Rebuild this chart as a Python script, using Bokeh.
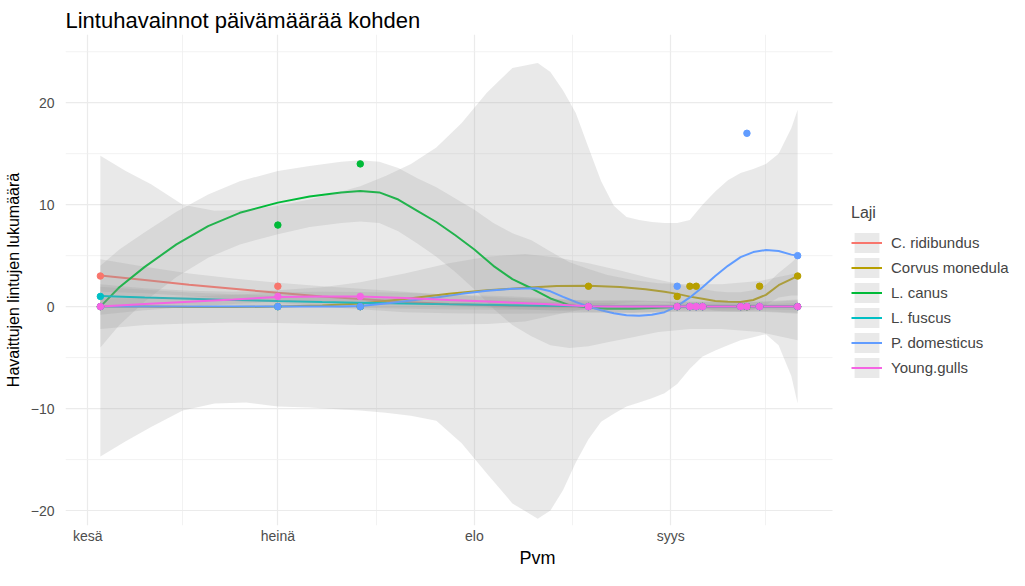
import pandas as pd
from bokeh.plotting import figure
from bokeh.models import Range1d, FixedTicker, Legend, LegendItem
from bokeh.embed import file_html
from bokeh.resources import INLINE

# ---------------- data ----------------
BASE = pd.Timestamp("2021-06-01")  # day 0 of the x axis


def to_days(dates):
    return [int((pd.Timestamp(d) - BASE).days) for d in dates]


month_ticks = ["2021-06-01", "2021-07-01", "2021-08-01", "2021-09-01"]
month_labels = ["kesä", "heinä", "elo", "syys"]
month_minor_days = [15, 45.5, 76.5, 107]
y_ticks = [-20, -10, 0, 10, 20]
y_minor = [-25, -15, -5, 5, 15, 25]

species = ["C. ridibundus", "Corvus monedula", "L. canus", "L. fuscus",
           "P. domesticus", "Young.gulls"]
colors = ["#F8766D", "#B79F00", "#00BA38", "#00BFC4", "#619CFF", "#F564E3"]

# observed counts per observation date
obs_dates = ["2021-06-03", "2021-07-01", "2021-07-14", "2021-08-19", "2021-09-02",
             "2021-09-04", "2021-09-05", "2021-09-06", "2021-09-12", "2021-09-13",
             "2021-09-15", "2021-09-21"]
ridib_count = [3, 2, 0, 0, 0, 0, 0, 0, 0, 0, 0, 0]
corvus_count = [0, 0, 0, 2, 1, 2, 2, 0, 0, 0, 2, 3]
canus_count = [0, 8, 14, 0, 0, 0, 0, 0, 0, 0, 0, 0]
fuscus_count = [1, 0, 0, 0, 0, 0, 0, 0, 0, 0, 0, 0]
domest_count = [0, 0, 0, 0, 2, 0, 0, 0, 0, 17, 0, 5]
young_count = [0, 1, 1, 0, 0, 0, 0, 0, 0, 0, 0, 0]

# smoothed trends (loess): day after 1 June, fit, CI half-width
ridib_day = [2, 9, 16, 23, 30, 37, 43, 50, 57, 65, 72, 79, 86, 93, 100, 106, 112]
ridib_fit = [3.05, 2.6, 2.15, 1.75, 1.35, 1.0, 0.75, 0.45, 0.25, 0.1, 0.03, 0.0, 0.0,
             0.0, 0.0, 0.0, 0.0]
ridib_ci = [1.6, 1.3, 1.1, 1.0, 1.0, 1.0, 1.0, 1.0, 0.9, 0.8, 0.7, 0.6, 0.6, 0.5, 0.5,
            0.5, 0.7]

fuscus_day = [2, 9, 16, 23, 30, 37, 43, 50, 57, 65, 72, 79, 86, 93, 100, 106, 112]
fuscus_fit = [1.05, 0.9, 0.78, 0.66, 0.55, 0.45, 0.38, 0.3, 0.22, 0.15, 0.08, 0.03, 0.0,
              0.0, 0.0, 0.0, 0.0]
fuscus_ci = [0.9, 0.75, 0.6, 0.55, 0.5, 0.5, 0.5, 0.5, 0.5, 0.45, 0.4, 0.35, 0.3, 0.25,
             0.25, 0.25, 0.35]

canus_day = [2, 5, 9, 14, 19, 24, 30, 35, 40, 43, 46, 49, 52, 55, 58, 61, 64, 67, 70, 73,
             76, 79, 82, 86, 90, 95, 100, 106, 112]
canus_fit = [0.0, 1.9, 3.9, 6.1, 7.9, 9.2, 10.2, 10.8, 11.2, 11.35, 11.2, 10.5, 9.4, 8.3,
             7.0, 5.6, 4.0, 2.7, 1.8, 0.8, 0.15, -0.1, -0.2, -0.2, -0.1, 0.0, 0.0, 0.0, 0.0]
canus_ci = [4.0, 3.7, 3.4, 3.2, 3.1, 3.1, 3.1, 3.0, 3.0, 3.0, 3.0, 3.1, 3.2, 3.4, 3.6,
            3.9, 4.2, 4.5, 4.7, 4.6, 4.2, 3.8, 3.3, 2.8, 2.4, 2.2, 2.2, 2.5, 3.3]

domest_day = [2, 6, 10, 15, 20, 25, 30, 35, 40, 43, 47, 51, 55, 59, 63, 67, 71, 73, 75, 77,
              79, 81, 83, 85, 87, 89, 91, 93, 95, 97, 99, 101, 103, 105, 107, 109, 111, 112]
domest_fit = [0, 0, 0, 0, 0, 0, 0, 0, 0, 0.05, 0.3, 0.6, 0.9, 1.25, 1.55, 1.75, 1.8, 1.5,
              0.95, 0.45, 0.0, -0.35, -0.65, -0.85, -0.9, -0.8, -0.55, 0.05, 0.9, 1.9, 3.0,
              4.0, 4.85, 5.35, 5.55, 5.45, 5.1, 5.0]
domest_lo = [-14.7, -13.2, -11.8, -10.2, -9.5, -9.4, -9.8, -9.9, -10.1, -10.2, -10.4, -10.7,
             -11.2, -13.4, -16.4, -19.3, -20.8, -20.0, -18.0, -15.3, -13.0, -11.3, -10.5,
             -9.8, -9.4, -9.0, -8.5, -7.6, -6.1, -4.9, -4.3, -3.8, -3.3, -3.0, -2.7, -3.8,
             -6.8, -9.5]
domest_hi = [14.8, 13.3, 12.0, 10.0, 9.4, 9.5, 9.9, 10.5, 11.3, 11.8, 12.8, 14.0, 15.6,
             18.0, 21.0, 23.4, 23.9, 23.0, 21.2, 19.0, 15.6, 12.3, 9.9, 8.8, 8.5, 8.3, 8.2,
             8.2, 8.5, 10.0, 11.3, 12.4, 13.1, 13.5, 14.0, 15.0, 17.5, 19.3]

young_day = [2, 9, 16, 23, 30, 37, 43, 50, 57, 65, 72, 79, 86, 93, 100, 106, 112]
young_fit = [0.0, 0.25, 0.48, 0.7, 0.95, 1.0, 0.98, 0.85, 0.65, 0.45, 0.25, 0.03, 0.0,
             0.0, 0.0, 0.0, 0.0]
young_ci = [0.8, 0.6, 0.5, 0.45, 0.45, 0.45, 0.45, 0.5, 0.55, 0.6, 0.6, 0.55, 0.6, 0.45,
            0.45, 0.45, 0.6]

corvus_day = [2, 9, 16, 23, 30, 37, 43, 50, 57, 63, 69, 74, 79, 84, 88, 91, 93, 95, 97, 99,
              101, 103, 105, 107, 109, 111, 112]
corvus_fit = [0.0, 0.0, -0.05, -0.05, 0.0, 0.1, 0.3, 0.75, 1.25, 1.6, 1.85, 2.02, 2.05,
              1.93, 1.7, 1.45, 1.25, 0.98, 0.78, 0.55, 0.47, 0.45, 0.65, 1.15, 2.1, 2.7, 3.0]
corvus_ci = [2.2, 1.8, 1.6, 1.5, 1.6, 1.8, 2.1, 2.5, 3.0, 3.3, 3.3, 2.8, 2.2, 1.6, 1.2,
             1.05, 1.0, 0.95, 0.95, 0.95, 0.95, 0.95, 0.95, 1.0, 1.2, 1.6, 1.9]


def band(fit, ci):
    return [f - c for f, c in zip(fit, ci)], [f + c for f, c in zip(fit, ci)]


series = [
    (ridib_count, ridib_day, ridib_fit) + band(ridib_fit, ridib_ci),
    (corvus_count, corvus_day, corvus_fit) + band(corvus_fit, corvus_ci),
    (canus_count, canus_day, canus_fit) + band(canus_fit, canus_ci),
    (fuscus_count, fuscus_day, fuscus_fit) + band(fuscus_fit, fuscus_ci),
    (domest_count, domest_day, domest_fit, domest_lo, domest_hi),
    (young_count, young_day, young_fit) + band(young_fit, young_ci),
]

# ---------------- layout ----------------
FONT = "Liberation Sans"
W, H = 1009, 570
LEFT, TOP = 65, 34
LEGEND_PX = 177                      # room on the right of the panel for the legend

obs_days = to_days(obs_dates)
span = max(obs_days) - min(obs_days)
x0 = min(obs_days) - 0.05 * span     # panel extent as ggplot would expand it
x1 = max(obs_days) + 0.05 * span
px_per_day = (W - LEFT - LEGEND_PX) / (x1 - x0)
x_end = x0 + (W - LEFT) / px_per_day  # frame also holds the legend area

p = figure(width=W, height=H, output_backend="svg", toolbar_location=None,
           x_range=Range1d(x0, x_end), y_range=Range1d(-21.47, 26.69),
           min_border_left=LEFT, min_border_right=0, min_border_top=TOP,
           min_border_bottom=30, title="Lintuhavainnot päivämäärää kohden")
p.outline_line_color = None
p.background_fill_color = "white"
p.border_fill_color = "white"

p.title.text_font = FONT
p.title.text_font_size = "22px"
p.title.text_font_style = "normal"
p.title.text_color = "black"
p.title.align = "left"
p.title.standoff = 3

tick_days = to_days(month_ticks)
p.xaxis.ticker = FixedTicker(ticks=tick_days, minor_ticks=month_minor_days)
p.xaxis.major_label_overrides = {d: lab for d, lab in zip(tick_days, month_labels)}
p.yaxis.ticker = FixedTicker(ticks=y_ticks, minor_ticks=y_minor)
p.xaxis.axis_label = "Pvm"
p.yaxis.axis_label = "Havaittujen lintujen lukumäärä"

for ax in (p.xaxis[0], p.yaxis[0]):
    ax.axis_line_color = None
    ax.major_tick_line_color = None
    ax.minor_tick_line_color = None
    ax.major_tick_out = 0
    ax.major_tick_in = 0
    ax.minor_tick_out = 0
    ax.minor_tick_in = 0
    ax.major_label_text_font = FONT
    ax.major_label_text_font_size = "14px"
    ax.major_label_text_color = "#4D4D4D"
    ax.axis_label_text_font = FONT
    ax.axis_label_text_font_style = "normal"
    ax.axis_label_text_color = "black"
p.xaxis.axis_label_text_font_size = "18px"
p.yaxis.axis_label_text_font_size = "16px"
p.xaxis.major_label_standoff = 2
p.xaxis.axis_label_standoff = 1
p.yaxis.major_label_standoff = 11
p.yaxis.axis_label_standoff = 6

# vertical grid from the axis; horizontal grid drawn only across the data panel
p.xgrid.grid_line_color = "#EBEBEB"
p.xgrid.grid_line_width = 1.2
p.xgrid.minor_grid_line_color = "#EFEFEF"
p.xgrid.minor_grid_line_width = 0.8
p.ygrid.grid_line_color = None
p.segment(x0=[x0] * len(y_minor), x1=[x1] * len(y_minor), y0=y_minor, y1=y_minor,
          line_color="#EFEFEF", line_width=0.8)
p.segment(x0=[x0] * len(y_ticks), x1=[x1] * len(y_ticks), y0=y_ticks, y1=y_ticks,
          line_color="#EBEBEB", line_width=1.2)

drawn = []
for name, col, (cnt, dday, fit, lo, hi) in zip(species, colors, series):
    b = p.varea(x=dday, y1=lo, y2=hi, fill_color="#999999", fill_alpha=0.22)
    l = p.line(x=dday, y=fit, line_color=col, line_width=2)
    drawn.append((b, l))

items = []
for name, col, (b, l), (cnt, dday, fit, lo, hi) in zip(species, colors, drawn, series):
    p.scatter(x=obs_days, y=cnt, size=6.5, fill_color=col, line_color=col)
    items.append(LegendItem(label=name, renderers=[b, l]))

legend = Legend(items=items, title="Laji", location=(786, 145))
legend.title_text_font = FONT
legend.title_text_font_size = "16px"
legend.title_text_font_style = "normal"
legend.title_standoff = 8
legend.label_text_font = FONT
legend.label_text_font_size = "15px"
legend.glyph_width = 31
legend.glyph_height = 25
legend.label_height = 25
legend.spacing = 0
legend.label_standoff = 9
legend.padding = 0
legend.margin = 0
legend.border_line_color = None
legend.background_fill_alpha = 0
p.add_layout(legend, "center")

open("out.html", "w").write(file_html(p, INLINE))
